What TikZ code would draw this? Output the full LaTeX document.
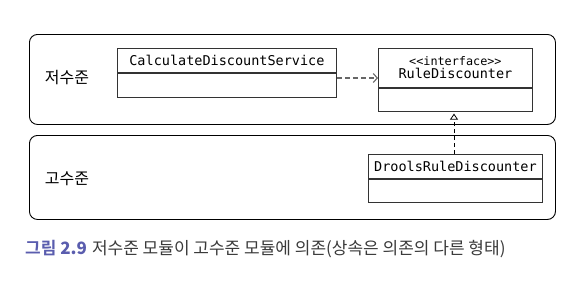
\documentclass[tikz,border=0pt]{standalone}
\usepackage{fontspec}
\setmainfont{Liberation Sans}
\newfontfamily\kofont{Noto Sans CJK KR}
\newfontfamily\kobold{Noto Sans CJK KR Bold}
\newfontfamily\codefont{DejaVu Sans Mono}
\usetikzlibrary{arrows.meta}
\definecolor{capblue}{HTML}{5A5DAE}
\definecolor{captext}{HTML}{3A3A3A}
\definecolor{linegray}{HTML}{333333}
\tikzset{
  layer/.style={draw=black, line width=0.9pt, rounded corners=8pt, anchor=north west, inner sep=0pt},
  layerlabel/.style={font=\kofont\fontsize{16}{18}\selectfont, text=black},
  classbox/.style={draw=linegray, line width=0.8pt, anchor=north west, inner sep=0pt,
    font=\codefont\fontsize{13.5}{15}\selectfont, align=center},
  classbody/.style={draw=linegray, line width=0.8pt, anchor=north, inner sep=0pt},
  usesarrow/.style={draw=black!60, line width=1.1pt, dash pattern=on 5pt off 3pt,
    -{Straight Barb[length=4pt,width=9pt]}},
  realizes/.style={draw=black, line width=0.8pt, dash pattern=on 4pt off 3pt,
    -{Triangle[open, length=6pt, width=8pt]}, shorten >=2pt}
}
\begin{document}
\begin{tikzpicture}[x=1pt, y=-1pt]
\useasboundingbox (0,0) rectangle (586,282);

% layers
\node[layer, minimum width=526pt, minimum height=90pt] (low) at (29,34) {};
\node[layer, minimum width=526pt, minimum height=84pt] (high) at (29,135) {};
\node[layerlabel] (lowlabel) at (67,78) {저수준};
\node[layerlabel] (highlabel) at (67,179) {고수준};

% CalculateDiscountService
\node[classbox, minimum width=219pt, minimum height=24pt] (calc) at (117,48) {CalculateDiscountService};
\node[classbody, minimum width=219pt, minimum height=24pt] (calcbody) at (calc.south) {};

% RuleDiscounter interface
\node[classbox, minimum width=154pt, minimum height=39pt] (rule) at (378,48)
  {{\fontsize{11.8}{13}\selectfont <<interface>>}\\[-2pt]RuleDiscounter};
\node[classbody, minimum width=154pt, minimum height=23pt] (rulebody) at (rule.south) {};

% DroolsRuleDiscounter
\node[classbox, minimum width=174pt, minimum height=24pt] (drools) at (368,154) {DroolsRuleDiscounter};
\node[classbody, minimum width=174pt, minimum height=23pt] (droolsbody) at (drools.south) {};

% relations
\coordinate (ruleleft) at (rule.west |- 0,78);
\draw[usesarrow] (calc.east |- ruleleft) -- (ruleleft);
\coordinate (droolstop) at (454,154);
\draw[realizes] (droolstop) -- (droolstop |- rulebody.south);

% caption
\node[anchor=west, inner sep=0pt] (caption) at (25,249)
  {{\kobold\fontsize{17}{20}\selectfont\color{capblue}그림 {\bfseries 2.9}}\hspace{5pt}{\kofont\fontsize{17}{20}\selectfont\color{captext}저수준 모듈이 고수준 모듈에 의존(상속은 의존의 다른 형태)}};
\end{tikzpicture}
\end{document}
